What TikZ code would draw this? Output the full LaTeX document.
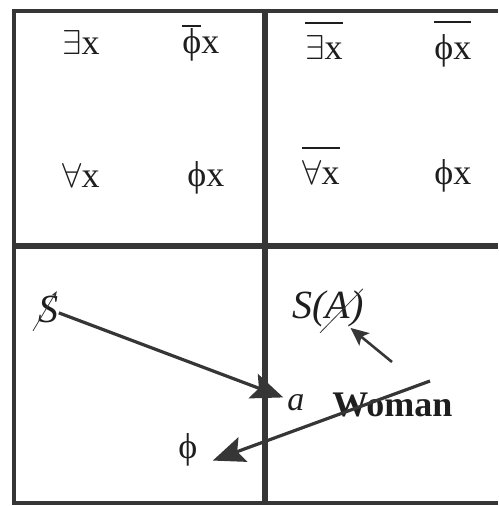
\documentclass[tikz,border=0pt]{standalone}
\usepackage{fontspec}
\setmainfont{Liberation Serif}
\usepackage{tikz}
\usetikzlibrary{arrows.meta,positioning,calc}
\definecolor{lndark}{HTML}{363636}
\definecolor{txdark}{HTML}{1E1E1E}
\newcommand{\ovbar}[2][6pt]{\vbox{\hrule height 0.9pt\kern #1\hbox{#2}}}

\begin{document}
\begin{tikzpicture}[x=0.5pt, y=-0.5pt,
    frm/.style={draw=lndark, line width=2pt},
    dvd/.style={draw=lndark, line width=3pt},
    lbl/.style={anchor=base west, inner sep=0pt, text=txdark,
                font=\fontsize{18}{20}\selectfont},
    arr/.style={-{Stealth[length=16pt, width=13pt, inset=3pt]}, line width=1.6pt, color=lndark},
    sarr/.style={-{Stealth[length=9pt, width=8pt, inset=2pt]}, line width=1.3pt, color=lndark},
    thin/.style={line width=0.4pt, color=lndark}
]
  \useasboundingbox (0,0) rectangle (498,506);
  % frame
  \coordinate (tl) at (14,11);
  \coordinate (tr) at (498,11);
  \coordinate (bl) at (14,503);
  \coordinate (br) at (498,503);
  \coordinate (ml) at (14,246);
  \coordinate (mr) at (498,246);
  \coordinate (mt) at (265,11);
  \coordinate (mb) at (265,503);
  \draw[frm] (tr) -- (tl) -- (bl) -- (br);
  \draw[dvd] (ml) -- (mr);
  \draw[dvd] (mt) -- (mb);

  % top left square
  \node[lbl] (ex) at (62,55) {$\exists$x};
  \node[lbl] (nphi) at (182,54) {\ovbar[1pt]{ϕ}x};
  \node[lbl] (all) at (62,188) {$\forall$x};
  \node[lbl] (phi) at (187,187) {ϕx};

  % top right square
  \node[lbl] (nex) at (305,60) {\ovbar{$\exists$x}};
  \node[lbl] (nphix) at (434,60) {\ovbar{ϕx}};
  \node[lbl] (nall) at (302,185) {\ovbar{$\forall$x}};
  \node[lbl] (phix) at (434,185) {ϕx};

  % bottom squares
  \node[lbl, font=\fontsize{20}{22}\selectfont\itshape] (s) at (38,322) {S};
  \node[lbl, font=\fontsize{20}{22}\selectfont\itshape] (sa) at (292,319) {S(A)};
  \node[lbl, font=\fontsize{17}{20}\selectfont\itshape] (a) at (287,410) {a};
  \node[lbl, font=\fontsize{18}{20}\selectfont\bfseries] (woman) at (332,416) {Woman};
  \node[lbl] (empt) at (178,458) {ϕ};

  \coordinate (satail) at (392,362);
  \coordinate (wtail) at (430,381);

  \draw[arr, shorten >=2pt] (s) -- (a);
  \draw[arr, shorten >=8pt] (wtail) -- (empt.south east);
  \draw[sarr] (satail) -- (sa);

  % strokes over the letters
  \draw[thin, -{Stealth[length=3pt]}] ($(s.south west)+(-5,8)$) -- ($(s.north east)+(-2,-4)$);
  \draw[thin] ($(sa.south)+(-8,5)$) -- ($(sa.north east)+(-1,-2)$);
\end{tikzpicture}
\end{document}
